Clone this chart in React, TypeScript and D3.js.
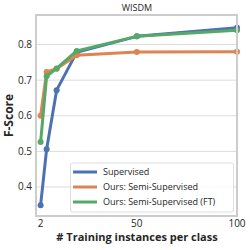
import React from 'react';
import * as d3 from 'd3';

const trainSizes = [2, 5, 10, 20, 50, 100];
const supervised = [0.349, 0.506, 0.672, 0.778, 0.823, 0.847];
const semiSupervised = [0.600, 0.723, 0.732, 0.770, 0.779, 0.780];
const semiSupervisedFT = [0.526, 0.711, 0.733, 0.782, 0.823, 0.840];
const seriesNames = ['Supervised', 'Ours: Semi-Supervised', 'Ours: Semi-Supervised (FT)'];
const seriesColors = ['#4C72B0', '#DD8452', '#55A868'];
const yTicks = [0.4, 0.5, 0.6, 0.7, 0.8];
const xTicks = [2, 50, 100];

const W = 250;
const H = 250;
const left = 36;
const right = 237;
const top = 15;
const bottom = 216;
const font = '"Open Sans", "DejaVu Sans", sans-serif';

const App: React.FC = () => {
  const x = d3.scaleLinear().domain([-0.3, 100]).range([left, right]);
  const y = d3.scaleLinear().domain([0.3185, 0.883]).range([bottom, top]);

  const line = d3.line<number>()
    .x((_, i) => x(trainSizes[i]))
    .y(d => y(d));

  const allSeries = [supervised, semiSupervised, semiSupervisedFT];

  return (
    <svg width={W} height={H} style={{ position: 'absolute', left: 0, top: 0, background: '#fff' }} fontFamily={font}>
      <rect x={0} y={0} width={W} height={H} fill="#fff" />
      {yTicks.map(t => (
        <g key={t}>
          <line x1={left} x2={right} y1={y(t)} y2={y(t)} stroke="#dcdcdc" strokeWidth={1} />
          <text x={32} y={y(t)} dy="0.35em" textAnchor="end" fontSize={10} fill="#262626">{t.toFixed(1)}</text>
        </g>
      ))}
      {xTicks.map(t => (
        <text key={t} x={x(t)} y={227} textAnchor="middle" fontSize={10} fill="#262626">{t}</text>
      ))}
      {allSeries.map((s, i) => (
        <g key={i}>
          <path d={line(s) || ''} fill="none" stroke={seriesColors[i]} strokeWidth={3} strokeLinejoin="round" />
          {s.map((v, j) => (
            <circle key={j} cx={x(trainSizes[j])} cy={y(v)} r={3} fill={seriesColors[i]} />
          ))}
        </g>
      ))}
      <rect x={left} y={top} width={right - left} height={bottom - top} fill="none" stroke="#cccccc" strokeWidth={2} />
      <text x={137} y={11} textAnchor="middle" fontSize={9} fill="#262626">WISDM</text>
      <text transform={`translate(13,${(top + bottom) / 2}) rotate(-90)`} textAnchor="middle" fontSize={12} fontWeight="bold" fill="#262626">F-Score</text>
      <text x={137} y={241} textAnchor="middle" fontSize={11} fontWeight="bold" fill="#262626"># Training instances per class</text>
      <rect x={70.5} y={163} width={163} height={49} rx={2} fill="#fff" fillOpacity={0.85} stroke="#dddddd" strokeWidth={1} />
      {seriesNames.map((n, i) => (
        <g key={n}>
          <line x1={73} x2={97} y1={172 + i * 15} y2={172 + i * 15} stroke={seriesColors[i]} strokeWidth={3} />
          <text x={103} y={172 + i * 15} dy="0.35em" fontSize={9} fill="#262626">{n}</text>
        </g>
      ))}
    </svg>
  );
};

export default App;
